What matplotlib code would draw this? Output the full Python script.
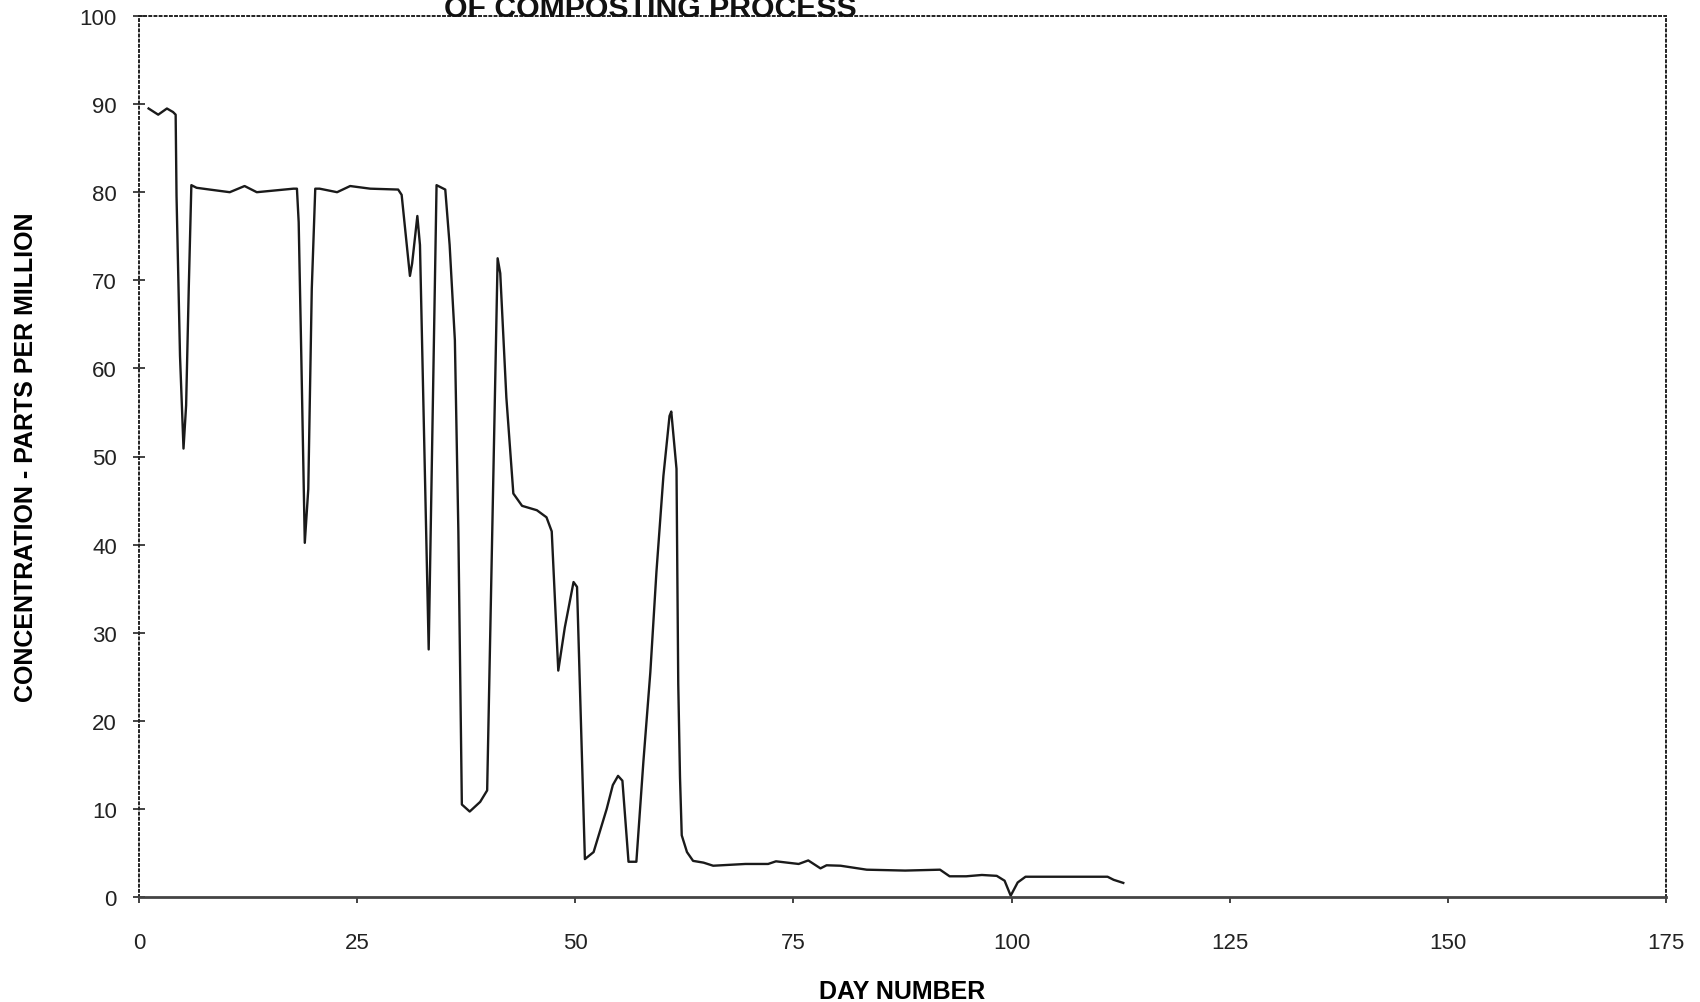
import numpy as np
import matplotlib
matplotlib.use("Agg")
import matplotlib.pyplot as plt

plt.rcParams['font.family'] = ['Liberation Sans', 'DejaVu Sans']

# values
day = [1.1, 2.2, 3.2, 3.9, 4.2, 4.3, 4.7, 5.1, 5.4, 5.7, 6.0, 6.6, 8.1, 10.4, 12.1, 13.5,
       17.7, 18.1, 18.3, 18.6, 19.0, 19.4, 19.8, 20.2, 20.7, 22.7, 24.2, 26.5, 29.7, 30.1,
       31.05, 31.3, 31.9, 32.2, 33.2, 34.1, 35.1, 35.6, 36.2, 36.6, 37.0, 37.9, 39.1, 39.9,
       41.1, 41.4, 42.1, 42.9, 43.9, 45.6, 46.7, 47.3, 48.05, 48.8, 49.8, 50.2, 51.1, 52.1,
       53.6, 54.3, 54.9, 55.4, 56.1, 57.0, 57.8, 58.6, 59.3, 60.1, 60.8, 61.0, 61.6, 61.7,
       61.8, 62.0, 62.2, 62.8, 63.5, 64.7, 65.8, 69.5, 72.1, 73.0, 75.6, 76.7, 78.1, 78.8,
       80.4, 83.4, 87.8, 91.8, 92.9, 94.8, 96.6, 98.3, 99.2, 99.9, 100.7, 101.6, 111.0,
       111.7, 112.8]
ppm = [89.5, 88.8, 89.5, 89.1, 88.8, 79.6, 61.4, 50.9, 55.8, 69.0, 80.8, 80.5, 80.3, 80.0, 80.7, 80.0,
       80.4, 80.4, 76.6, 61.4, 40.2, 46.3, 69.0, 80.4, 80.4, 80.0, 80.7, 80.4, 80.3, 79.7,
       70.5, 71.9, 77.3, 74.0, 28.1, 80.8, 80.3, 74.0, 63.2, 41.5, 10.5, 9.7, 10.8, 12.1,
       72.5, 70.8, 56.7, 45.8, 44.4, 43.9, 43.1, 41.5, 25.7, 30.6, 35.75, 35.2, 4.3, 5.1,
       10.0, 12.7, 13.75, 13.2, 4.0, 4.0, 15.3, 25.5, 36.9, 47.8, 54.6, 55.1, 48.6, 36.1,
       24.2, 13.6, 7.0, 5.1, 4.1, 3.9, 3.55, 3.75, 3.75, 4.05, 3.75, 4.15, 3.25, 3.6,
       3.55, 3.1, 3.0, 3.1, 2.35, 2.35, 2.5, 2.4, 1.85, 0.15, 1.65, 2.3, 2.3,
       1.95, 1.6]

x_ticks = [0, 25, 50, 75, 100, 125, 150, 175]
y_ticks = [0, 10, 20, 30, 40, 50, 60, 70, 80, 90, 100]

fig = plt.figure(figsize=(17, 10.03), dpi=100)
ax = fig.add_axes([139/1700, 1 - 898/1003, (1666-139)/1700, (898-17)/1003])

ax.plot(day, ppm, color='#1a1a1a', lw=1.7)

ax.set_xlim(0, 175)
ax.set_ylim(0, 100)
ax.set_xticks(x_ticks)
ax.set_yticks(y_ticks)

for s in ['left', 'top', 'right']:
    ax.spines[s].set_linestyle(':')
    ax.spines[s].set_linewidth(1.4)
    ax.spines[s].set_color('#222222')
ax.spines['bottom'].set_linewidth(2)
ax.spines['bottom'].set_color('#444444')

ax.tick_params(axis='y', direction='inout', length=8, width=1.2, pad=12, labelsize=16, colors='#222222')
ax.tick_params(axis='x', direction='out', length=4, width=1.2, pad=21, labelsize=16, colors='#222222')

ax.set_xlabel('DAY NUMBER', fontsize=18, fontweight='bold', labelpad=19)
ax.set_ylabel('CONCENTRATION - PARTS PER MILLION', fontsize=18, fontweight='bold', labelpad=30)

fig.text(650/1700, 1 - 17/1003, 'OF COMPOSTING PROCESS', ha='center', va='baseline',
         fontsize=21.8, fontweight='bold', color='#111111')

fig.savefig('out.png', dpi=100)
